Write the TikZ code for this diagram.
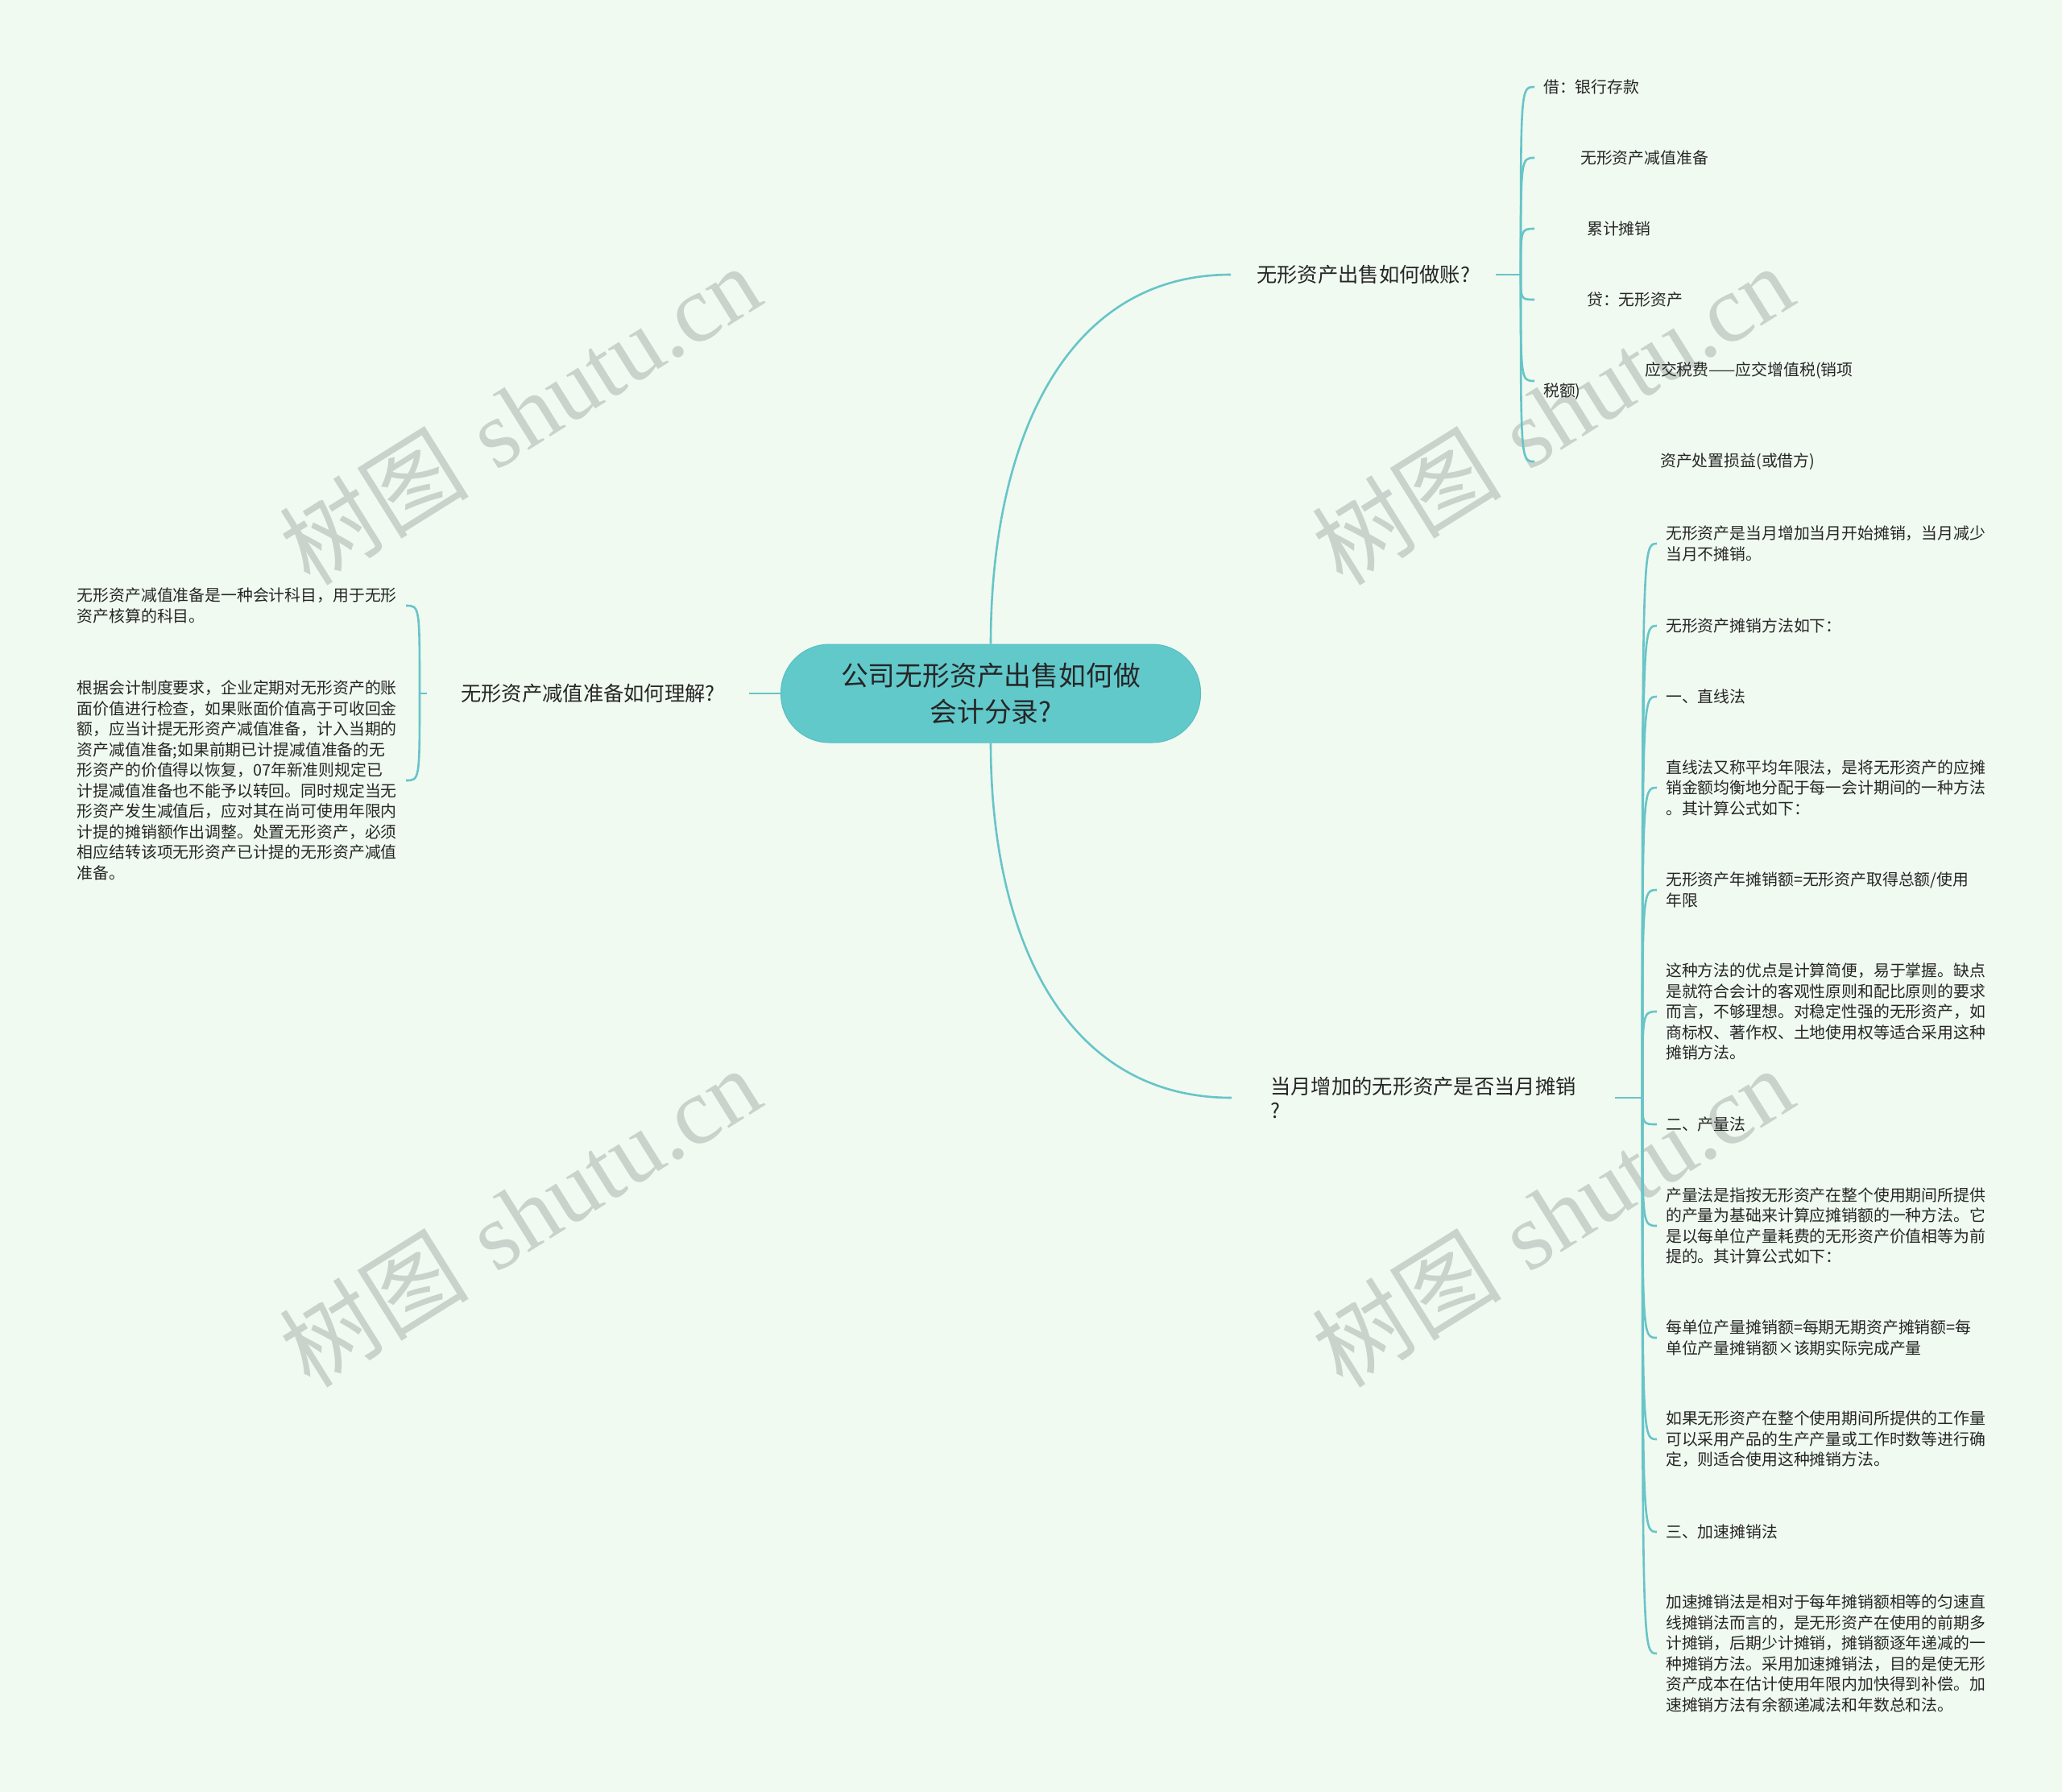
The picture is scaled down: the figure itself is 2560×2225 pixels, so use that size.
\documentclass[tikz,border=0pt]{standalone}
\usepackage{fontspec}
\newfontfamily\cjk{Noto Sans CJK SC}
\newfontfamily\wmserif{Liberation Serif}
\definecolor{bgcol}{HTML}{F0FAF0}
\definecolor{linecol}{HTML}{68C4C8}
\definecolor{rootcol}{HTML}{62C9CB}
\definecolor{rootedge}{HTML}{58BEC1}
\definecolor{txtcol}{HTML}{262626}
\definecolor{wmcol}{HTML}{C9D2CB}
\tikzset{
  link/.style={draw=linecol, line width=2.6pt},
  rootbox/.style={fill=rootcol, draw=rootedge, line width=1pt, rounded corners=60pt,
    minimum width=521pt, minimum height=122pt, align=center, text=txtcol,
    font=\cjk\fontsize{33.8}{45}\selectfont},
  topic/.style={inner xsep=32pt, inner ysep=4pt, align=left, text=txtcol,
    font=\cjk\fontsize{25.3}{30}\selectfont},
  leaf/.style={inner xsep=11pt, inner ysep=2pt, align=left, text=txtcol,
    font=\cjk\fontsize{19.85}{25.5}\selectfont},
  wmark/.style={text=wmcol, rotate=32, font=\fontsize{118}{118}\selectfont}
}
\begin{document}
\begin{tikzpicture}[x=1pt,y=-1pt]
\useasboundingbox (0,0) rectangle (2560,2225);
\fill[bgcol] (0,0) rectangle (2560,2225);

% watermark, behind everything
\foreach \wx/\wy in {645/514, 1927/514, 645/1510, 1927/1510}{
  \node[wmark] at (\wx,\wy) {{\cjk 树图} {\wmserif shutu.cn}};
}

% centre and main topics
\node[rootbox] (root) at (1230,861) {公司无形资产出售如何做\\会计分录?};
\node[topic, anchor=west] (sale) at (1528,341) {无形资产出售如何做账?};
\node[topic, anchor=west, inner xsep=48pt] (month) at (1529,1363) {当月增加的无形资产是否当月摊销\\?};
\node[topic, anchor=east, inner xsep=42pt] (impair) at (930,861) {无形资产减值准备如何理解?};

\draw[link] (root.north) .. controls +(0,-248) and +(-208,0) .. (sale.west);
\draw[link] (root.south) .. controls +(0,240) and +(-208,0) .. (month.west);
\draw[link] (root.west) -- (impair.east);

\coordinate (jsale) at (1888,341);
\coordinate (jmonth) at (2039,1363);
\coordinate (jimpair) at (521,861);
\draw[link] (sale.east) -- (jsale);
\draw[link] (month.east) -- (jmonth);
\draw[link] (impair.west) -- (jimpair);

% entries of the sale
\foreach \n/\y/\txt in {%
  1/108/{借：银行存款},%
  2/196/{\hspace*{46pt}无形资产减值准备},%
  3/284/{\hspace*{54pt}累计摊销},%
  4/372/{\hspace*{54pt}贷：无形资产},%
  5/473/{\hspace*{126pt}应交税费——应交增值税(销项\\税额)},%
  6/573/{\hspace*{145pt}资产处置损益(或借方)}}{
  \node[leaf, anchor=west] (s\n) at (1905,\y) {\txt};
  \draw[link] (jsale) .. controls (jsale |- s\n.west) .. (s\n.west);
}

% amortisation notes
\foreach \n/\y/\txt in {%
  1/675/{无形资产是当月增加当月开始摊销，当月减少\\当月不摊销。},%
  2/777/{无形资产摊销方法如下：},%
  3/865/{一、直线法},%
  4/978/{直线法又称平均年限法，是将无形资产的应摊\\销金额均衡地分配于每一会计期间的一种方法\\。其计算公式如下：},%
  5/1105/{无形资产年摊销额=无形资产取得总额/使用\\年限},%
  6/1256/{这种方法的优点是计算简便，易于掌握。缺点\\是就符合会计的客观性原则和配比原则的要求\\而言，不够理想。对稳定性强的无形资产，如\\商标权、著作权、土地使用权等适合采用这种\\摊销方法。},%
  7/1396/{二、产量法},%
  8/1522/{产量法是指按无形资产在整个使用期间所提供\\的产量为基础来计算应摊销额的一种方法。它\\是以每单位产量耗费的无形资产价值相等为前\\提的。其计算公式如下：},%
  9/1661/{每单位产量摊销额=每期无期资产摊销额=每\\单位产量摊销额×该期实际完成产量},%
  10/1787/{如果无形资产在整个使用期间所提供的工作量\\可以采用产品的生产产量或工作时数等进行确\\定，则适合使用这种摊销方法。},%
  11/1902/{三、加速摊销法},%
  12/2053/{加速摊销法是相对于每年摊销额相等的匀速直\\线摊销法而言的，是无形资产在使用的前期多\\计摊销，后期少计摊销，摊销额逐年递减的一\\种摊销方法。采用加速摊销法，目的是使无形\\资产成本在估计使用年限内加快得到补偿。加\\速摊销方法有余额递减法和年数总和法。}}{
  \node[leaf, anchor=west] (m\n) at (2057,\y) {\txt};
  \draw[link] (jmonth) .. controls (jmonth |- m\n.west) .. (m\n.west);
}

% impairment notes
\node[leaf, anchor=east] (i1) at (504,752) {无形资产减值准备是一种会计科目，用于无形\\资产核算的科目。};
\node[leaf, anchor=east] (i2) at (504,969) {根据会计制度要求，企业定期对无形资产的账\\面价值进行检查，如果账面价值高于可收回金\\额，应当计提无形资产减值准备，计入当期的\\资产减值准备;如果前期已计提减值准备的无\\形资产的价值得以恢复，07年新准则规定已\\计提减值准备也不能予以转回。同时规定当无\\形资产发生减值后，应对其在尚可使用年限内\\计提的摊销额作出调整。处置无形资产，必须\\相应结转该项无形资产已计提的无形资产减值\\准备。};
\foreach \n in {1,2}{
  \draw[link] (jimpair) .. controls (jimpair |- i\n.east) .. (i\n.east);
}
\end{tikzpicture}
\end{document}
